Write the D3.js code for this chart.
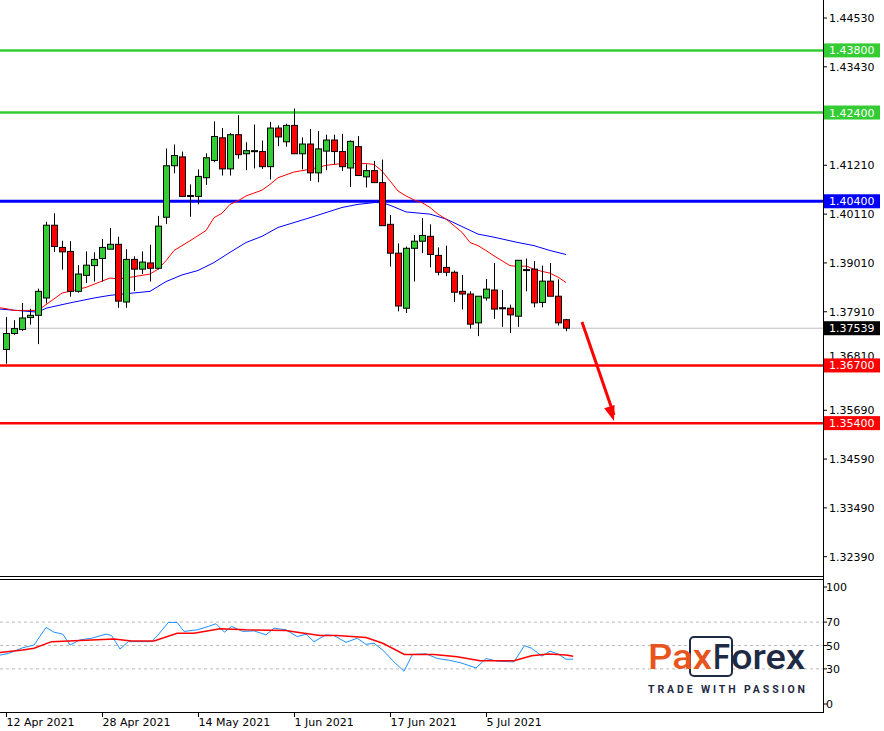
<!DOCTYPE html>
<html>
<head>
<meta charset="utf-8">
<script src="https://cdn.jsdelivr.net/npm/d3@7"></script>
<style>
  body { margin: 0; background: #fff; }
  svg { display: block; font-family: Tahoma, "DejaVu Sans", sans-serif; }
</style>
</head>
<body>
<svg id="chart" width="884" height="731"></svg>
<script>
// daily candles, 12 Apr 2021 .. 16 Jul 2021 (index 0..70)
const opens  = [1.3706,1.3742,1.3751,1.3778,1.3783,1.3822,1.3986,1.3936,1.3927,1.3837,1.3873,1.3895,1.3911,1.3932,1.3943,1.3813,1.3909,1.3887,1.3901,1.3889,1.4004,1.4120,1.4140,1.4051,1.4051,1.4093,1.4132,1.4183,1.4113,1.4190,1.4147,1.4152,1.4152,1.4118,1.4205,1.4174,1.4211,1.4147,1.4169,1.4104,1.4153,1.4178,1.4152,1.4115,1.4163,1.4095,1.4109,1.4082,1.3988,1.3923,1.3799,1.3934,1.3950,1.3961,1.3918,1.3891,1.3880,1.3837,1.3831,1.3766,1.3822,1.3840,1.3800,1.3799,1.3781,1.3886,1.3887,1.3812,1.3860,1.3826,1.3773];
const highs  = [1.3779,1.3772,1.3811,1.3798,1.3843,1.3994,1.4013,1.3951,1.3950,1.3896,1.3927,1.3925,1.3955,1.3980,1.3960,1.3932,1.3916,1.3927,1.3942,1.4007,1.4159,1.4168,1.4152,1.4078,1.4112,1.4148,1.4220,1.4205,1.4194,1.4234,1.4173,1.4213,1.4177,1.4219,1.4211,1.4215,1.4249,1.4184,1.4203,1.4198,1.4190,1.4190,1.4192,1.4177,1.4187,1.4123,1.4131,1.4134,1.4009,1.3945,1.3938,1.3964,1.4002,1.3988,1.3936,1.3940,1.3884,1.3874,1.3837,1.3826,1.3865,1.3901,1.3840,1.3807,1.3907,1.3911,1.3905,1.3895,1.3901,1.3864,1.3775];
const lows   = [1.3674,1.3739,1.3748,1.3762,1.3718,1.3810,1.3926,1.3886,1.3825,1.3834,1.3856,1.3859,1.3859,1.3932,1.3800,1.3800,1.3838,1.3876,1.3859,1.3886,1.3989,1.4103,1.4051,1.4005,1.4033,1.4077,1.4128,1.4098,1.4098,1.4136,1.4110,1.4114,1.4113,1.4089,1.4164,1.4163,1.4147,1.4112,1.4086,1.4083,1.4110,1.4123,1.4108,1.4072,1.4098,1.4071,1.4082,1.3985,1.3893,1.3792,1.3788,1.3859,1.3923,1.3891,1.3873,1.3871,1.3813,1.3796,1.3753,1.3736,1.3816,1.3775,1.3757,1.3743,1.3757,1.3837,1.3801,1.3801,1.3826,1.3760,1.3747];
const closes = [1.3742,1.3753,1.3777,1.3783,1.3837,1.3986,1.3938,1.3926,1.3837,1.3876,1.3896,1.3909,1.3936,1.3943,1.3815,1.3909,1.3887,1.3903,1.3889,1.3984,1.4120,1.4143,1.4051,1.4053,1.4096,1.4138,1.4186,1.4113,1.4190,1.4145,1.4154,1.4154,1.4118,1.4205,1.4185,1.4211,1.4147,1.4169,1.4104,1.4158,1.4178,1.4152,1.4118,1.4175,1.4098,1.4109,1.4082,1.3985,1.3923,1.3804,1.3934,1.3950,1.3963,1.3920,1.3880,1.3880,1.3835,1.3831,1.3763,1.3826,1.3842,1.3797,1.3798,1.3784,1.3907,1.3884,1.3811,1.3860,1.3826,1.3766,1.3754];

// moving averages: [candle index, price]
const maFast = [[-0.8,1.3800],[0,1.3798],[1,1.3794],[4,1.3794],[5,1.3807],[7,1.3833],[10,1.3846],[13,1.3867],[14,1.3865],[16,1.3870],[18,1.3876],[19,1.3887],[20,1.3906],[21,1.3929],[23,1.3951],[25,1.3974],[26,1.4003],[27,1.4013],[28,1.4033],[29,1.4041],[30,1.4052],[32,1.4065],[33,1.4078],[34,1.4093],[36,1.4106],[38,1.4112],[40,1.4121],[42,1.4125],[44,1.4125],[45,1.4125],[46,1.4123],[47,1.4108],[48,1.4086],[49,1.4063],[50,1.4052],[51,1.4043],[52,1.4037],[53,1.4026],[54,1.4011],[55,1.4000],[56,1.3985],[57,1.3970],[58,1.3947],[59,1.3940],[60,1.3929],[61,1.3917],[62,1.3906],[63,1.3895],[64,1.3893],[65,1.3894],[66,1.3887],[67,1.3882],[68,1.3878],[69,1.3869],[70,1.3857]];
const maSlow = [[-0.8,1.3797],[0,1.3796],[4,1.3790],[5,1.3799],[8,1.3811],[11,1.3822],[13,1.3828],[18,1.3837],[20,1.3859],[22,1.3874],[24,1.3884],[26,1.3902],[28,1.3925],[30,1.3947],[32,1.3961],[34,1.3981],[36,1.3992],[38,1.4003],[42,1.4026],[44,1.4033],[46,1.4037],[47,1.4037],[48,1.4031],[50,1.4016],[53,1.4011],[55,1.4000],[57,1.3983],[59,1.3966],[61,1.3959],[64,1.3947],[66,1.3940],[68,1.3929],[70,1.3920]];

// oscillator panel
const rsi = [[-0.75,41.8],[0.3,43.2],[2.1,48.1],[3.5,50.4],[5,65.4],[6,61.4],[7.1,59.7],[8,50.4],[9.25,54.8],[10.7,56.2],[12.5,59.7],[13.2,58.5],[14.25,47.0],[15.3,53.3],[16.4,53.3],[18.2,53.3],[18.9,58.2],[20.3,69.7],[21.4,69.7],[22.25,62.0],[23.9,63.4],[25.3,66.3],[26.25,68.6],[27.3,61.4],[28.2,66.3],[29.6,62.0],[31,62.5],[32.5,59.1],[33.5,64.8],[35,63.4],[36.4,57.6],[37.5,59.7],[38.5,53.3],[40,59.1],[41,58.5],[42.5,52.7],[43.9,56.2],[45,51.0],[46,51.9],[47.1,46.1],[48.5,36.0],[49.75,28.0],[50.8,42.4],[52.5,42.9],[53.9,38.9],[55.3,37.5],[56.75,35.4],[58.75,30.8],[60,38.9],[61.4,36.6],[63.5,36.0],[64.8,49.9],[65.7,47.6],[67,40.9],[68,45.2],[69.1,42.4],[70,38.3],[70.9,38.3]];
const rsiMa = [[-0.75,44.1],[2.1,46.1],[3.5,47.6],[5.7,53.3],[7.8,53.9],[10.7,54.8],[13.5,55.6],[15.7,53.9],[18.5,53.9],[21.4,60.5],[23.5,60.5],[26.75,64.3],[30,63.4],[35,62.8],[36.4,61.4],[39.25,58.5],[41.4,58.5],[45,56.8],[47.1,51.9],[49.8,42.4],[53.5,42.4],[56.4,40.3],[59.25,36.9],[63.5,36.9],[65.7,41.2],[67.8,42.7],[70,41.8],[70.9,40.9]];

const priceTicks = [1.4453,1.4343,1.4121,1.4011,1.3901,1.3791,1.3569,1.3459,1.3349,1.3239];
const rsiTicks = [100,70,50,30,0];
const rsiGrid = [70,50,30];
const levels = [
  { v: 1.4380, color: '#33cc33' },
  { v: 1.4240, color: '#33cc33' },
  { v: 1.4040, color: '#0000ff' },
  { v: 1.3670, color: '#ff0000' },
  { v: 1.3540, color: '#ff0000' }
];
const lastPrice = 1.37539;
const dateLabels = [[0,'12 Apr 2021'],[12,'28 Apr 2021'],[24,'14 May 2021'],[36,'1 Jun 2021'],[48,'17 Jun 2021'],[60,'5 Jul 2021']];
const arrowFrom = [72,1.3768], arrowTo = [76,1.3545];

const svg = d3.select('#chart');
const axisX = 823;
const x = d3.scaleLinear().domain([0, 1]).range([6, 14]);
const y = d3.scaleLinear().domain([1.4453, 1.3239]).range([18, 556.7]);
const yr = d3.scaleLinear().domain([0, 100]).range([704, 587]);

// last price line
svg.append('line').attr('x1', 0).attr('x2', axisX).attr('y1', y(lastPrice)).attr('y2', y(lastPrice))
  .attr('stroke', '#c0c0c0').attr('stroke-width', 1);

// level lines
levels.forEach(l => {
  svg.append('line').attr('x1', 0).attr('x2', axisX).attr('y1', y(l.v)).attr('y2', y(l.v))
    .attr('stroke', l.color).attr('stroke-width', l.color === '#0000ff' ? 3 : 2.5);
});

// moving averages
const ln = d3.line().x(d => x(d[0])).y(d => y(d[1]));
svg.append('path').attr('d', ln(maSlow)).attr('fill', 'none').attr('stroke', '#0000ff').attr('stroke-width', 1);
svg.append('path').attr('d', ln(maFast)).attr('fill', 'none').attr('stroke', '#ff0000').attr('stroke-width', 1);

// candles
const candles = opens.map((o, i) => ({ i, o, h: highs[i], l: lows[i], c: closes[i] }));
const g = svg.append('g');
g.selectAll('.wick').data(candles).enter().append('line')
  .attr('x1', d => Math.round(x(d.i)) + 0.5).attr('x2', d => Math.round(x(d.i)) + 0.5)
  .attr('y1', d => y(d.h)).attr('y2', d => y(d.l)).attr('stroke', '#000');
g.selectAll('.body').data(candles).enter().append('rect')
  .attr('x', d => Math.round(x(d.i)) - 2.5).attr('width', 6)
  .attr('y', d => y(Math.max(d.o, d.c))).attr('height', d => Math.max(1, Math.abs(y(d.o) - y(d.c))))
  .attr('fill', d => d.c >= d.o ? '#33cc33' : '#ff0000').attr('stroke', '#000').attr('stroke-width', 1);

// arrow
const ax1 = x(arrowFrom[0]), ay1 = y(arrowFrom[1]), ax2 = x(arrowTo[0]), ay2 = y(arrowTo[1]);
svg.append('line').attr('x1', ax1).attr('y1', ay1).attr('x2', ax2).attr('y2', ay2 - 6)
  .attr('stroke', '#ff0000').attr('stroke-width', 3);
const ang = Math.atan2(ay2 - ay1, ax2 - ax1);
const head = [[ax2, ay2], [ax2 - 16 * Math.cos(ang - 0.35), ay2 - 16 * Math.sin(ang - 0.35)], [ax2 - 16 * Math.cos(ang + 0.35), ay2 - 16 * Math.sin(ang + 0.35)]];
svg.append('path').attr('d', 'M' + head.map(p => p.join(',')).join('L') + 'Z').attr('fill', '#ff0000');

// price axis
svg.append('line').attr('x1', axisX + 0.5).attr('x2', axisX + 0.5).attr('y1', 0).attr('y2', 713).attr('stroke', '#000');
priceTicks.forEach(t => {
  svg.append('line').attr('x1', axisX).attr('x2', axisX + 4).attr('y1', y(t)).attr('y2', y(t)).attr('stroke', '#000');
  svg.append('text').attr('x', 829).attr('y', y(t) + 4).attr('font-size', 11).attr('fill', '#000').text(t.toFixed(5));
});
// tick partly hidden behind the level label, as in the original
svg.append('text').attr('x', 829).attr('y', y(1.3681) - 1).attr('font-size', 11).text('1.36810');
levels.forEach(l => {
  svg.append('rect').attr('x', 824).attr('y', y(l.v) - 7).attr('width', 56).attr('height', 14).attr('fill', l.color);
  svg.append('text').attr('x', 829).attr('y', y(l.v) + 4).attr('font-size', 11).attr('fill', '#fff').text(l.v.toFixed(5));
});
svg.append('rect').attr('x', 824).attr('y', y(lastPrice) - 7).attr('width', 56).attr('height', 14).attr('fill', '#000');
svg.append('text').attr('x', 829).attr('y', y(lastPrice) + 4).attr('font-size', 11).attr('fill', '#fff').text(lastPrice.toFixed(5));

// panel separators
svg.append('line').attr('x1', 0).attr('x2', axisX).attr('y1', 576.5).attr('y2', 576.5).attr('stroke', '#000');
svg.append('line').attr('x1', 0).attr('x2', axisX).attr('y1', 579.5).attr('y2', 579.5).attr('stroke', '#000');
svg.append('line').attr('x1', 0).attr('x2', axisX).attr('y1', 712.5).attr('y2', 712.5).attr('stroke', '#000');

// oscillator
rsiGrid.forEach(t => {
  svg.append('line').attr('x1', 0).attr('x2', axisX).attr('y1', yr(t)).attr('y2', yr(t))
    .attr('stroke', '#bbb').attr('stroke-dasharray', '3,3');
});
rsiTicks.forEach(t => {
  svg.append('line').attr('x1', axisX).attr('x2', axisX + 4).attr('y1', yr(t)).attr('y2', yr(t)).attr('stroke', '#000');
  svg.append('text').attr('x', 826).attr('y', yr(t) + 4).attr('font-size', 11).text(t);
});
const lr = d3.line().x(d => x(d[0])).y(d => yr(d[1]));
svg.append('path').attr('d', lr(rsi)).attr('fill', 'none').attr('stroke', '#1e90ff').attr('stroke-width', 1);
svg.append('path').attr('d', lr(rsiMa)).attr('fill', 'none').attr('stroke', '#ff0000').attr('stroke-width', 1.5);

// date axis
dateLabels.forEach(([i, s]) => {
  const xx = Math.round(x(i)) + 0.5;
  svg.append('line').attr('x1', xx).attr('x2', xx).attr('y1', 712).attr('y2', 717).attr('stroke', '#000');
  svg.append('text').attr('x', xx + 0).attr('y', 726).attr('font-size', 11).text(s);
});

// logo
const logo = svg.append('g').attr('font-family', 'Roboto, sans-serif').attr('font-weight', 500);
logo.append('rect').attr('x', 690).attr('y', 637).attr('width', 42).attr('height', 39).attr('rx', 4)
  .attr('fill', '#fff').attr('stroke', '#1f2a44').attr('stroke-width', 2);
logo.append('text').attr('x', 648).attr('y', 669).attr('font-size', 35).attr('fill', '#e8541e')
  .attr('textLength', 64).attr('lengthAdjust', 'spacingAndGlyphs').text('Pax');
logo.append('text').attr('x', 713).attr('y', 669).attr('font-size', 35).attr('fill', '#1f2a44')
  .attr('textLength', 17).attr('lengthAdjust', 'spacingAndGlyphs').text('F');
logo.append('text').attr('x', 731).attr('y', 669).attr('font-size', 35).attr('fill', '#1f2a44')
  .attr('textLength', 74).attr('lengthAdjust', 'spacingAndGlyphs').text('orex');
logo.append('text').attr('x', 648).attr('y', 693).attr('font-size', 10.5).attr('font-weight', 700)
  .attr('fill', '#1f2a44').attr('textLength', 157).attr('lengthAdjust', 'spacing').text('TRADE WITH PASSION');
</script>
</body>
</html>
